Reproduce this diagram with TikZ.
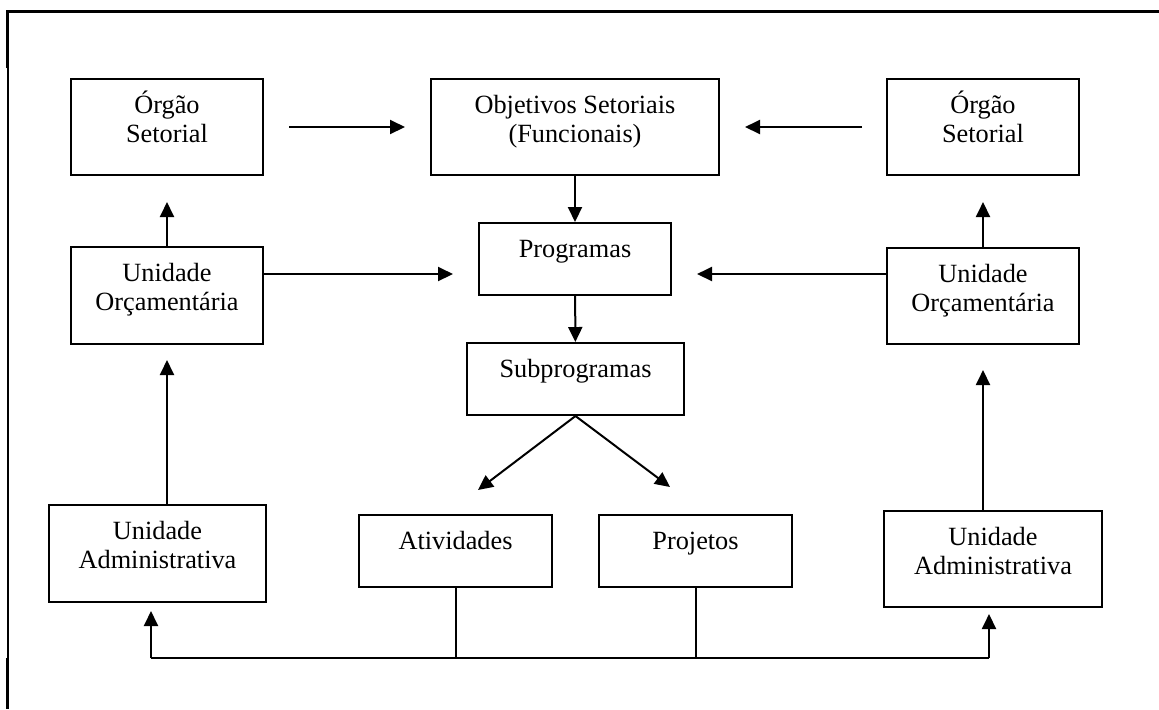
\documentclass[tikz,border=0pt]{standalone}
\usepackage{fontspec}
\setmainfont{Liberation Serif}
\usetikzlibrary{arrows.meta,positioning}
\newcommand{\caixatxt}[3]{\parbox[b][#2][t]{#1}{\centering\rule{0pt}{17pt}#3}}

\begin{document}
\begin{tikzpicture}[x=0.5pt,y=-0.5pt,line width=1pt,>={Triangle[length=7.5pt,width=7pt]}]
	\tikzset{caixa/.style={draw,inner sep=0pt,anchor=north west,font=\fontsize{13.15}{14.75}\selectfont}}
	\useasboundingbox (0,0) rectangle (1159,709);
	% moldura
	\draw [line width=1.5pt] (7,68) -- (7,11.5) -- (1159,11.5);
	\draw [line width=0.8pt] (8,68) -- (8,658);
	\draw [line width=1.5pt] (7,658) -- (7,709);
	% caixas
	\node [caixa] (orgE) at (70,78) {\caixatxt{96pt}{48pt}{Órgão\\Setorial}};
	\node [caixa] (obj) at (430,78) {\caixatxt{144pt}{48pt}{Objetivos Setoriais\\(Funcionais)}};
	\node [caixa] (orgD) at (886,78) {\caixatxt{96pt}{48pt}{Órgão\\Setorial}};
	\node [caixa] (uoE) at (70,246) {\caixatxt{96pt}{48.5pt}{Unidade\\Orçamentária}};
	\node [caixa] (prog) at (478,222) {\caixatxt{96pt}{36pt}{Programas}};
	\node [caixa] (uoD) at (886,247) {\caixatxt{96pt}{48pt}{Unidade\\Orçamentária}};
	\node [caixa] (sub) at (466,342) {\caixatxt{108.5pt}{36pt}{Subprogramas}};
	\node [caixa] (ativ) at (358,514) {\caixatxt{96.5pt}{36pt}{Atividades}};
	\node [caixa] (proj) at (598,514) {\caixatxt{96.5pt}{36pt}{Projetos}};
	\node [caixa] (uaE) at (48,504) {\caixatxt{108.5pt}{48.5pt}{Unidade\\Administrativa}};
	\node [caixa] (uaD) at (883,510) {\caixatxt{109pt}{48pt}{Unidade\\Administrativa}};
	% setas
	\draw [->,shorten <=12.5pt,shorten >=12.5pt] (orgE) -- (obj);
	\draw [->,shorten <=12pt,shorten >=12.5pt] (orgD) -- (obj);
	\draw [->] (obj) -- (prog);
	\draw [->,shorten >=13pt] (uoE) -- (orgE);
	\draw [->,shorten >=13pt] (uoD) -- (orgD);
	\coordinate (pE) at ([yshift=10.75pt]uoE.east);
	\coordinate (pD) at ([yshift=11pt]uoD.west);
	\draw [->,shorten >=12.5pt] (pE) -- (pE -| prog.west);
	\draw [->,shorten >=12.5pt] (pD) -- (pD -| prog.east);
	\draw [->] (prog) -- (sub);
	\coordinate (sA) at (478,490);
	\coordinate (sP) at (670,487);
	\draw [->] (sub.south) -- (sA);
	\draw [->] (sub.south) -- (sP);
	\draw [->,shorten >=7.5pt] (uaE.north -| uoE.south) -- (uoE.south);
	\draw [->,shorten >=12.5pt] (uaD.north -| uoD.south) -- (uoD.south);
	% linha de baixo
	\coordinate (bE) at (151,658);
	\coordinate (bD) at (989,658);
	\draw (bE) -- (bD);
	\draw (ativ.south) -- (ativ.south |- bE);
	\draw (proj.south) -- (proj.south |- bE);
	\draw [->,shorten >=4pt] (bE) -- (bE |- uaE.south);
	\draw [->,shorten >=3pt] (bD) -- (bD |- uaD.south);
\end{tikzpicture}
\end{document}
